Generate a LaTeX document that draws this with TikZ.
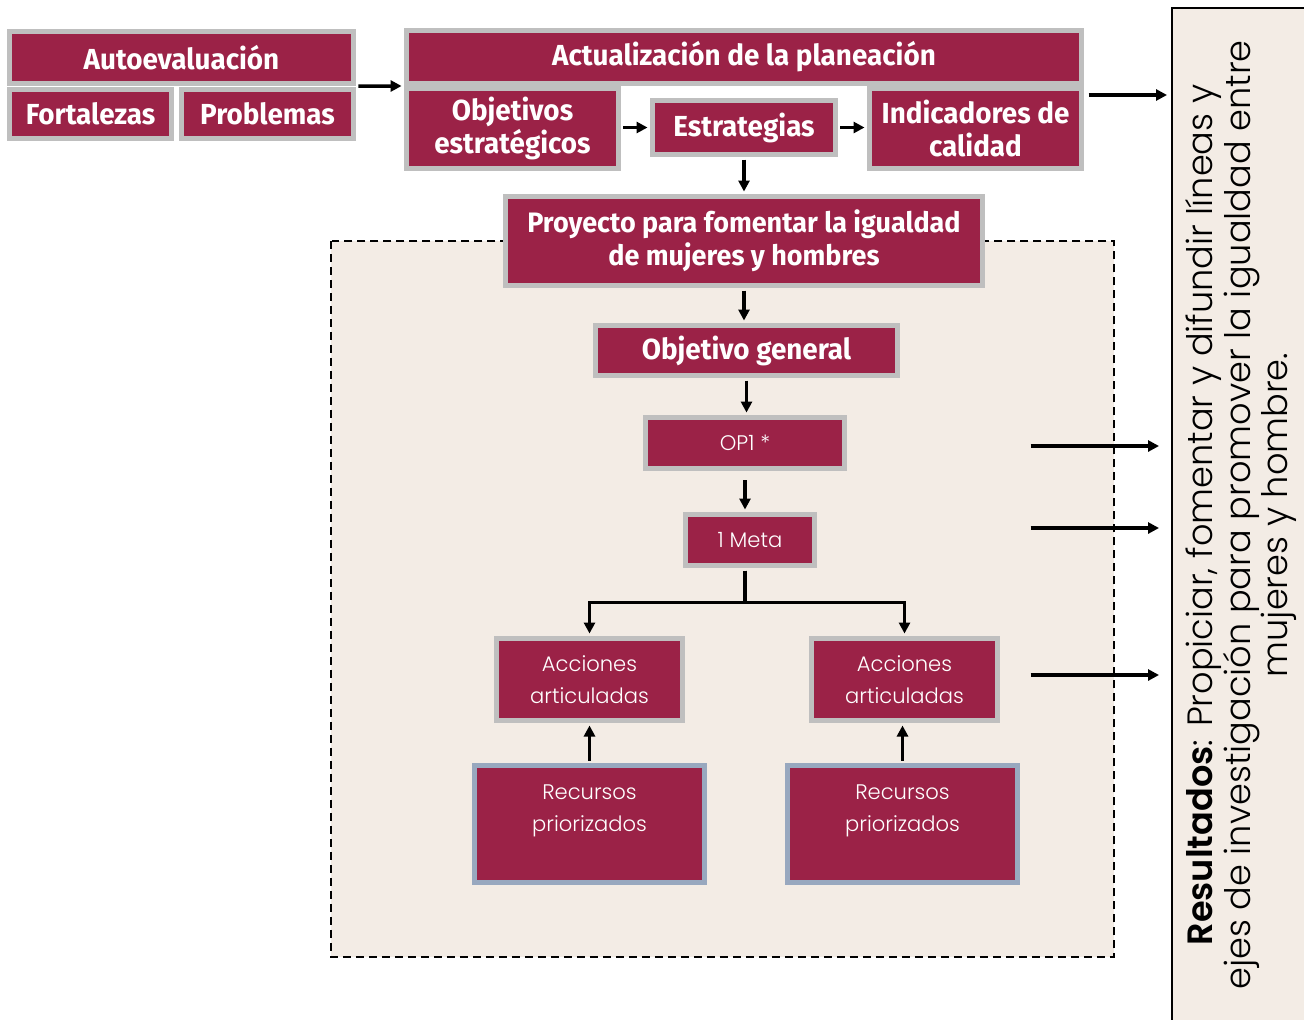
\documentclass[tikz,border=0pt]{standalone}
\usepackage{fontspec}
\setmainfont{Fira Sans}
\newfontfamily\headfont{Fira Sans}[FakeStretch=0.96]
\newfontfamily\thinfont{Poppins}[UprightFont={* Light},BoldFont={* SemiBold}]
\usetikzlibrary{arrows.meta,calc}

\definecolor{guinda}{HTML}{9B2247}
\definecolor{rim}{HTML}{BFBFBF}
\definecolor{sand}{HTML}{F3ECE5}
\definecolor{slate}{HTML}{98A8BF}

\tikzset{
    box/.style={fill=guinda,draw=rim,line width=0.1cm,text=white,align=center,inner sep=0pt},
    headbox/.style={box,font=\headfont\bfseries\fontsize{16.5}{19}\selectfont},
    thinbox/.style={box,font=\thinfont\fontsize{12}{18}\selectfont},
    arr/.style={-{Triangle[length=0.22cm,width=0.22cm]},line width=0.07cm,shorten <=0.05cm,shorten >=0.05cm}
}

\begin{document}
\begin{tikzpicture}[x=0.02cm,y=-0.02cm]
    % page
    \useasboundingbox (0,0) rectangle (1304,1019);
    \fill[white] (0,0) rectangle (1304,1019);
    \clip (0,0) rectangle (1304,1019);

    % results panel, cut by the page edge
    \node[draw=black,fill=sand,line width=0.04cm,rotate=90,minimum width=20.28cm,minimum height=2.76cm,
          align=center,font=\thinfont\fontsize{20}{20}\selectfont] (res) at (1241,515)
        {{\bfseries Resultados}: Propiciar, fomentar y difundir líneas y\\
         ejes de investigación para promover la igualdad entre\\
         mujeres y hombre.};

    % dashed project area
    \draw[fill=sand,line width=0.04cm,dash pattern=on 0.16cm off 0.1cm] (331,241) rectangle (1114,957);

    % self-evaluation
    \node[headbox,minimum width=6.88cm,minimum height=1.04cm] (auto) at (181.5,57.5) {Autoevaluación};
    \node[headbox,minimum width=3.24cm,minimum height=0.98cm] (fort) at (90.5,114) {Fortalezas};
    \node[headbox,minimum width=3.44cm,minimum height=0.98cm] (prob) at (267.5,114) {Problemas};

    % planning update
    \node[headbox,minimum width=13.5cm,minimum height=1.06cm] (act) at (744,57) {Actualización de la planeación};
    \node[headbox,minimum width=4.24cm,minimum height=1.6cm] (obj) at (512.5,128.5) {Objetivos\\estratégicos};
    \node[headbox,minimum width=3.66cm,minimum height=1.08cm] (est) at (744,127.5) {Estrategias};
    \node[headbox,minimum width=4.24cm,minimum height=1.6cm] (ind) at (975.5,128.5) {Indicadores de\\calidad};

    % project
    \node[headbox,font=\headfont\bfseries\fontsize{16}{19}\selectfont,minimum width=9.54cm,minimum height=1.78cm] (proy) at (744,241)
        {Proyecto para fomentar la igualdad\\de mujeres y hombres};
    \node[headbox,minimum width=6.04cm,minimum height=1.0cm] (og) at (746.5,350.5) {Objetivo general};
    \node[thinbox,minimum width=3.98cm,minimum height=1.02cm] (op) at (745,443) {OP1 *};
    \node[thinbox,minimum width=2.58cm,minimum height=1.02cm] (meta) at (750,540) {1 Meta};

    % actions and resources
    \node[thinbox,minimum width=3.72cm,minimum height=1.64cm] (accL) at (589.5,679.5) {Acciones\\articuladas};
    \node[thinbox,minimum width=3.72cm,minimum height=1.64cm] (accR) at (904.5,679.5) {Acciones\\articuladas};
    \node[thinbox,draw=slate,minimum width=4.6cm,minimum height=2.34cm] (recL) at (589.5,824) {Recursos\\priorizados\\~};
    \node[thinbox,draw=slate,minimum width=4.6cm,minimum height=2.34cm] (recR) at (902.5,824) {Recursos\\priorizados\\~};

    % arrows along the top
    \draw[arr] (auto.south east) -- (act.south west);
    \draw[arr] (est.west -| obj.east) -- (est.west);
    \draw[arr] (est.east) -- (est.east -| ind.west);
    \draw[arr] (est.south) -- (proy.north);

    % arrows down the project
    \draw[arr] (proy.south) -- (proy.south |- og.north);
    \draw[arr] (og.south) -- (og.south |- op.north);
    \draw[arr,shorten <=0.18cm] (op.south) -- (op.south |- meta.north);
    \coordinate (stem) at ($(meta.south)+(-5,0)$);
    \draw[arr] (stem) -- ++(0,34.5) -| (accL.north);
    \draw[arr] (stem) -- ++(0,34.5) -| (accR.north);
    \draw[arr] (recL.north) -- (accL.south);
    \draw[arr] (recR.north) -- (recR.north |- accR.south);

    % arrows into the results
    \coordinate (r0) at (1086,95);
    \coordinate (r1) at (1028,446);
    \coordinate (r2) at (1028,528);
    \coordinate (r3) at (1028,675);
    \draw[arr,shorten >=0.08cm] (r0) -- (r0 -| res.north);
    \draw[arr,shorten >=0.24cm] (r1) -- (r1 -| res.north);
    \draw[arr,shorten >=0.24cm] (r2) -- (r2 -| res.north);
    \draw[arr,shorten >=0.24cm] (r3) -- (r3 -| res.north);
\end{tikzpicture}
\end{document}
